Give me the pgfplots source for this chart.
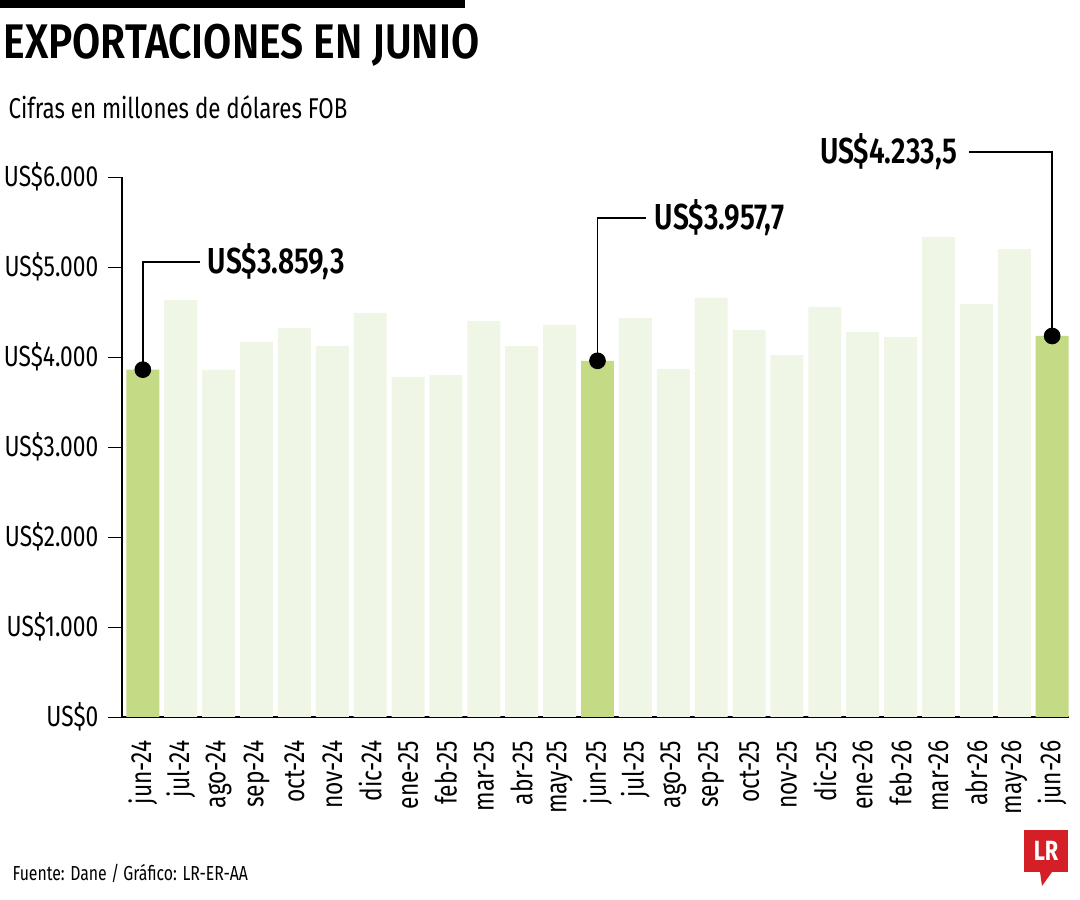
\documentclass[border=0pt]{standalone}
\usepackage{pgfplots}
\pgfplotsset{compat=1.18}
\usepackage{fontspec}
\setmainfont{Fira Sans}[FakeStretch=0.78]
\newfontfamily\bfc{Fira Sans SemiBold}[FakeStretch=0.78]
\newfontfamily\bft{Fira Sans SemiBold}[FakeStretch=0.84]
\definecolor{barl}{HTML}{F0F6E6}
\definecolor{barh}{HTML}{C5DA85}
\definecolor{lrred}{HTML}{D51F26}
\begin{document}
\begin{tikzpicture}[x=0.36pt,y=0.36pt]
\path[use as bounding box] (0,0) rectangle (1080,900);
\fill[black] (0,892) rectangle (465,900);
\node[anchor=west,inner sep=0] at (3,855) {\fontsize{17.5}{20}\selectfont\bft EXPORTACIONES EN JUNIO};
\node[anchor=west,inner sep=0] at (8,793) {\fontsize{10.3}{13}\selectfont Cifras en millones de dólares FOB};
\node[anchor=west,inner sep=0] at (12,27) {\fontsize{7.3}{9}\selectfont Fuente: Dane / Gráfico: LR-ER-AA};
\fill[lrred] (1024,28) rectangle (1068,70);
\fill[lrred] (1040,28) -- (1052,28) -- (1042,14) -- cycle;
\node[text=white] at (1046,49) {\fontsize{10}{12}\selectfont\bfseries\rmfamily LR};
\begin{axis}[at={(122pt*0.36,183pt*0.36)},anchor=south west,
  scale only axis, width=341pt, height=194.4pt,
  xmin=-0.55, xmax=24.45, ymin=0, ymax=6000, clip=false,
  axis x line*=bottom, axis y line*=left,
  axis line style={black,line width=0.6pt},
  ytick={0,1000,...,6000},
  yticklabels={US\$0,US\$1.000,US\$2.000,US\$3.000,US\$4.000,US\$5.000,US\$6.000},
  tick label style={font=\fontsize{10.5}{12}\selectfont},
  ytick style={black}, major tick length=5pt,
  tick align=outside,
  xtick={0,...,24},
  xticklabels={jun-24,jul-24,ago-24,sep-24,oct-24,nov-24,dic-24,ene-25,feb-25,mar-25,abr-25,may-25,jun-25,jul-25,ago-25,sep-25,oct-25,nov-25,dic-25,ene-26,feb-26,mar-26,abr-26,may-26,jun-26},
  x tick label style={rotate=90,anchor=east},
  extra x ticks={-0.5,0.5,...,24.5}, extra x tick labels={},
  extra x tick style={major tick length=6pt,tick style={black}},
  xtick style={draw=none},
]
\addplot[ybar,bar width=0.87,fill=barl,draw=none] coordinates {
(1,4633)(2,3856)(3,4167)(4,4322)(5,4122)(6,4489)(7,3778)(8,3800)(9,4400)(10,4122)(11,4356)
(13,4433)(14,3867)(15,4656)(16,4300)(17,4022)(18,4556)(19,4278)(20,4222)(21,5333)(22,4589)(23,5200)};
\addplot[ybar,bar width=0.87,fill=barh,draw=none] coordinates {(0,3859.3)(12,3957.7)(24,4233.5)};
\addplot[only marks,mark=*,mark size=2.8pt,black] coordinates {(0,3859.3)(12,3957.7)(24,4233.5)};
\draw[black,line width=0.5pt] (axis cs:0,3859.3) -- (axis cs:0,5055) -- (axis cs:1.5,5055);
\draw[black,line width=0.5pt] (axis cs:12,3957.7) -- (axis cs:12,5544) -- (axis cs:13.27,5544);
\draw[black,line width=0.5pt] (axis cs:24,4233.5) -- (axis cs:24,6280) -- (axis cs:21.8,6280);
\node[anchor=west,inner sep=0] at (axis cs:1.7,5055) {\fontsize{13}{15}\selectfont\bfc US\$3.859,3};
\node[anchor=west,inner sep=0] at (axis cs:13.5,5544) {\fontsize{13}{15}\selectfont\bfc US\$3.957,7};
\node[anchor=east,inner sep=0] at (axis cs:21.5,6280) {\fontsize{13}{15}\selectfont\bfc US\$4.233,5};
\end{axis}
\end{tikzpicture}
\end{document}
